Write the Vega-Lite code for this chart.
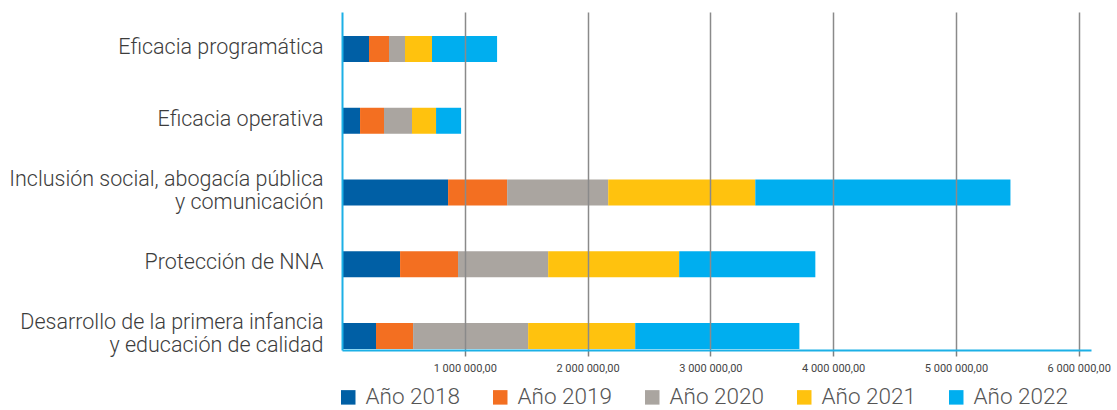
{
  "$schema": "https://vega.github.io/schema/vega-lite/v6.json",
  "width": 749,
  "height": 338,
  "autosize": "none",
  "padding": {"left": 342, "top": 12, "right": 26, "bottom": 60},
  "background": "white",
  "data": {
    "values": [
      {"categoria": "Eficacia programática", "anio": "Año 2018", "valor": 220000},
      {"categoria": "Eficacia programática", "anio": "Año 2019", "valor": 163000},
      {"categoria": "Eficacia programática", "anio": "Año 2020", "valor": 130000},
      {"categoria": "Eficacia programática", "anio": "Año 2021", "valor": 220000},
      {"categoria": "Eficacia programática", "anio": "Año 2022", "valor": 530000},
      {"categoria": "Eficacia operativa", "anio": "Año 2018", "valor": 147000},
      {"categoria": "Eficacia operativa", "anio": "Año 2019", "valor": 195000},
      {"categoria": "Eficacia operativa", "anio": "Año 2020", "valor": 228000},
      {"categoria": "Eficacia operativa", "anio": "Año 2021", "valor": 196000},
      {"categoria": "Eficacia operativa", "anio": "Año 2022", "valor": 204000},
      {"categoria": "Inclusión social, abogacía pública|y comunicación", "anio": "Año 2018", "valor": 864000},
      {"categoria": "Inclusión social, abogacía pública|y comunicación", "anio": "Año 2019", "valor": 481000},
      {"categoria": "Inclusión social, abogacía pública|y comunicación", "anio": "Año 2020", "valor": 823000},
      {"categoria": "Inclusión social, abogacía pública|y comunicación", "anio": "Año 2021", "valor": 1198000},
      {"categoria": "Inclusión social, abogacía pública|y comunicación", "anio": "Año 2022", "valor": 2078000},
      {"categoria": "Protección de NNA", "anio": "Año 2018", "valor": 473000},
      {"categoria": "Protección de NNA", "anio": "Año 2019", "valor": 472000},
      {"categoria": "Protección de NNA", "anio": "Año 2020", "valor": 734000},
      {"categoria": "Protección de NNA", "anio": "Año 2021", "valor": 1067000},
      {"categoria": "Protección de NNA", "anio": "Año 2022", "valor": 1109000},
      {"categoria": "Desarrollo de la primera infancia|y educación de calidad", "anio": "Año 2018", "valor": 277000},
      {"categoria": "Desarrollo de la primera infancia|y educación de calidad", "anio": "Año 2019", "valor": 302000},
      {"categoria": "Desarrollo de la primera infancia|y educación de calidad", "anio": "Año 2020", "valor": 937000},
      {"categoria": "Desarrollo de la primera infancia|y educación de calidad", "anio": "Año 2021", "valor": 872000},
      {"categoria": "Desarrollo de la primera infancia|y educación de calidad", "anio": "Año 2022", "valor": 1337000}
    ]
  },
  "mark": {"type": "bar"},
  "encoding": {
    "y": {
      "field": "categoria",
      "type": "nominal",
      "sort": [
        "Eficacia programática",
        "Eficacia operativa",
        "Inclusión social, abogacía pública|y comunicación",
        "Protección de NNA",
        "Desarrollo de la primera infancia|y educación de calidad"
      ],
      "scale": {"paddingInner": 0.6376, "paddingOuter": 0.1743, "align": 0.96},
      "axis": {
        "title": null,
        "ticks": false,
        "grid": false,
        "domainColor": "#1cb0e6",
        "domainWidth": 2,
        "labelPadding": 19,
        "labelFont": "Roboto",
        "labelFontWeight": 300,
        "labelFontSize": 21.5,
        "labelColor": "#3c3c3c",
        "labelLineHeight": 23,
        "labelLimit": 400,
        "labelExpr": "split(datum.value, '|')",
        "labelOffset": {"condition": {"test": "indexof(datum.value, '|') >= 0", "value": -13}, "value": -1},
        "zindex": 1
      }
    },
    "x": {
      "field": "valor",
      "type": "quantitative",
      "stack": "zero",
      "scale": {"domain": [0, 6100000], "nice": false},
      "axis": {
        "title": null,
        "values": [1000000, 2000000, 3000000, 4000000, 5000000, 6000000],
        "grid": true,
        "gridColor": "#8a8a8a",
        "gridWidth": 1.5,
        "domainColor": "#1cb0e6",
        "domainWidth": 2,
        "tickColor": "#808080",
        "tickSize": 6,
        "tickWidth": 1.5,
        "labelPadding": 6,
        "labelFont": "Roboto",
        "labelFontSize": 11,
        "labelColor": "#444444",
        "labelExpr": "format(datum.value / 1000000, 'd') + ' 000 000,00'",
        "zindex": 1
      }
    },
    "color": {
      "field": "anio",
      "type": "nominal",
      "scale": {
        "domain": ["Año 2018", "Año 2019", "Año 2020", "Año 2021", "Año 2022"],
        "range": ["#005fa5", "#f36f21", "#aaa5a0", "#ffc20e", "#00aeef"]
      },
      "legend": {
        "title": null,
        "orient": "none",
        "legendX": -5,
        "legendY": 374,
        "direction": "horizontal",
        "columns": 5,
        "symbolType": "square",
        "symbolSize": 210,
        "symbolStrokeWidth": 0,
        "symbolOpacity": 1,
        "labelFont": "Roboto",
        "labelFontWeight": 300,
        "labelFontSize": 22.5,
        "labelColor": "#555555",
        "labelOffset": 6,
        "columnPadding": 29,
        "labelLimit": 200
      }
    }
  },
  "config": {"view": {"stroke": null}}
}
